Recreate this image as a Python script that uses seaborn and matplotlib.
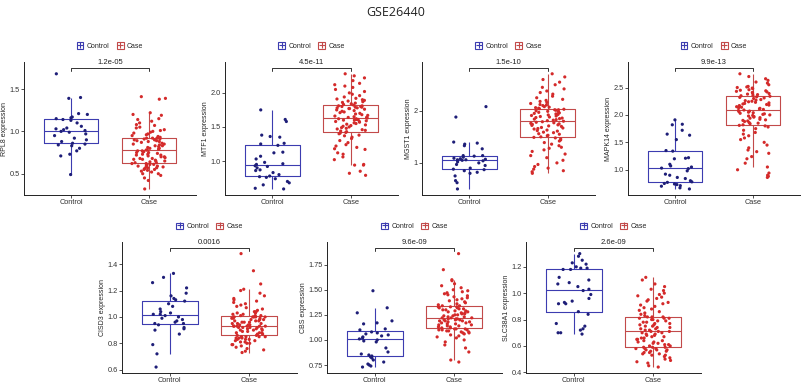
import numpy as np
import pandas as pd
import matplotlib
matplotlib.use('Agg')
import matplotlib.pyplot as plt
from matplotlib.lines import Line2D
from matplotlib.patches import Patch
from matplotlib.legend_handler import HandlerTuple
import seaborn as sns

# Expression values (32 controls, 98 septic shock cases)
rpl8_control = [1.68, 1.40, 1.39, 1.21, 1.20, 1.17, 1.16, 1.15, 1.14, 1.13, 1.10, 1.06, 1.04, 1.03, 1.02, 1.01,
                1.00, 0.99, 0.97, 0.95, 0.92, 0.90, 0.88, 0.86, 0.85, 0.84, 0.83, 0.80, 0.77, 0.73, 0.71, 0.49]
rpl8_case = [0.32, 0.42, 0.45, 0.48, 0.50, 0.50, 0.52, 0.53, 0.54, 0.55, 0.55, 0.56, 0.57, 0.57, 0.58, 0.58,
             0.59, 0.59, 0.60, 0.60, 0.61, 0.61, 0.62, 0.62,
             0.63, 0.63, 0.64, 0.65, 0.65, 0.66, 0.67, 0.67, 0.68, 0.68, 0.69, 0.70, 0.70, 0.71, 0.72, 0.72,
             0.73, 0.73, 0.74, 0.75, 0.75, 0.76, 0.76, 0.77, 0.77,
             0.78, 0.78, 0.79, 0.80, 0.80, 0.81, 0.82, 0.83, 0.83, 0.84, 0.85, 0.85, 0.86, 0.87, 0.88, 0.88,
             0.89, 0.89, 0.90, 0.90, 0.91, 0.91, 0.92, 0.92, 0.92,
             0.93, 0.94, 0.95, 0.96, 0.97, 0.98, 0.99, 1.00, 1.01, 1.02, 1.04, 1.05, 1.07, 1.08, 1.10, 1.12,
             1.14, 1.15, 1.19, 1.20, 1.22, 1.38, 1.39, 1.41]

mtf1_control = [1.75, 1.61, 1.58, 1.38, 1.36, 1.35, 1.26, 1.25, 1.23, 1.13, 1.12, 1.07, 1.03, 0.98, 0.96, 0.95,
                0.93, 0.92, 0.90, 0.87, 0.86, 0.83, 0.80, 0.78, 0.77, 0.76, 0.74, 0.70, 0.68, 0.65, 0.60, 0.59]
mtf1_case = [0.79, 0.82, 0.85, 0.94, 0.94, 0.95, 1.02, 1.06, 1.10, 1.12, 1.17, 1.18, 1.20, 1.22, 1.24, 1.27,
             1.30, 1.33, 1.35, 1.37, 1.38, 1.40, 1.41, 1.42,
             1.43, 1.44, 1.45, 1.46, 1.47, 1.48, 1.49, 1.50, 1.51, 1.52, 1.53, 1.54, 1.55, 1.56, 1.57, 1.58,
             1.58, 1.59, 1.60, 1.60, 1.61, 1.61, 1.62, 1.62, 1.63,
             1.64, 1.64, 1.65, 1.66, 1.67, 1.68, 1.69, 1.70, 1.71, 1.72, 1.73, 1.74, 1.75, 1.76, 1.77, 1.77,
             1.78, 1.78, 1.79, 1.79, 1.80, 1.80, 1.81, 1.81, 1.82,
             1.83, 1.84, 1.85, 1.86, 1.87, 1.88, 1.89, 1.90, 1.91, 1.92, 1.94, 1.96, 1.98, 2.00, 2.02, 2.05,
             2.08, 2.10, 2.12, 2.14, 2.18, 2.22, 2.25, 2.28]

mgst1_control = [2.08, 1.88, 1.40, 1.38, 1.36, 1.33, 1.27, 1.14, 1.14, 1.13, 1.11, 1.09, 1.08, 1.07, 1.06, 1.06,
                 1.05, 1.04, 1.02, 1.00, 0.97, 0.95, 0.90, 0.88, 0.87, 0.85, 0.82, 0.80, 0.75, 0.66, 0.62, 0.50]
mgst1_case = [0.80, 0.83, 0.85, 0.88, 0.90, 0.93, 0.97, 1.00, 1.05, 1.10, 1.14, 1.17, 1.22, 1.25, 1.28, 1.30,
              1.33, 1.36, 1.39, 1.42, 1.44, 1.46, 1.48, 1.49,
              1.50, 1.52, 1.53, 1.55, 1.56, 1.58, 1.59, 1.61, 1.62, 1.63, 1.65, 1.66, 1.67, 1.68, 1.70, 1.71,
              1.72, 1.73, 1.74, 1.75, 1.76, 1.77, 1.78, 1.79, 1.80,
              1.81, 1.82, 1.83, 1.84, 1.85, 1.86, 1.87, 1.88, 1.89, 1.90, 1.91, 1.92, 1.93, 1.94, 1.95, 1.96,
              1.97, 1.98, 1.99, 2.00, 2.01, 2.02, 2.02, 2.03, 2.04,
              2.05, 2.06, 2.07, 2.08, 2.10, 2.11, 2.12, 2.14, 2.16, 2.18, 2.20, 2.22, 2.25, 2.28, 2.32, 2.35,
              2.38, 2.42, 2.45, 2.50, 2.55, 2.60, 2.65, 2.71]

mapk14_control = [1.91, 1.83, 1.82, 1.72, 1.65, 1.63, 1.55, 1.35, 1.34, 1.22, 1.21, 1.20, 1.10, 1.07, 1.05, 1.03,
                  1.02, 0.98, 0.92, 0.90, 0.86, 0.84, 0.80, 0.78, 0.77, 0.75, 0.74, 0.73, 0.71, 0.70, 0.67, 0.65]
mapk14_case = [0.86, 0.88, 0.90, 0.94, 1.00, 1.05, 1.12, 1.20, 1.24, 1.30, 1.33, 1.36, 1.40, 1.45, 1.50, 1.55,
               1.58, 1.62, 1.65, 1.68, 1.72, 1.75, 1.78, 1.80,
               1.81, 1.82, 1.84, 1.85, 1.86, 1.88, 1.89, 1.90, 1.91, 1.92, 1.94, 1.95, 1.96, 1.97, 1.98, 1.99,
               2.00, 2.01, 2.02, 2.03, 2.04, 2.05, 2.06, 2.07, 2.08,
               2.09, 2.10, 2.11, 2.12, 2.13, 2.14, 2.15, 2.16, 2.17, 2.18, 2.19, 2.20, 2.21, 2.22, 2.23, 2.24,
               2.25, 2.26, 2.27, 2.28, 2.30, 2.31, 2.32, 2.33, 2.34,
               2.35, 2.36, 2.37, 2.38, 2.39, 2.40, 2.41, 2.42, 2.43, 2.44, 2.45, 2.46, 2.48, 2.49, 2.50, 2.51,
               2.52, 2.55, 2.58, 2.60, 2.63, 2.66, 2.70, 2.75]

cisd3_control = [1.33, 1.30, 1.26, 1.22, 1.18, 1.16, 1.14, 1.13, 1.12, 1.10, 1.08, 1.06, 1.04, 1.03, 1.02, 1.02,
                 1.01, 1.00, 0.99, 0.98, 0.97, 0.96, 0.95, 0.95, 0.94, 0.92, 0.91, 0.90, 0.87, 0.79, 0.72, 0.62]
cisd3_case = [0.73, 0.74, 0.75, 0.76, 0.77, 0.78, 0.79, 0.79, 0.80, 0.80, 0.81, 0.81, 0.82, 0.82, 0.83, 0.83,
              0.83, 0.84, 0.84, 0.84, 0.85, 0.85, 0.85, 0.85,
              0.86, 0.86, 0.87, 0.87, 0.88, 0.88, 0.88, 0.89, 0.89, 0.90, 0.90, 0.90, 0.91, 0.91, 0.91, 0.92,
              0.92, 0.92, 0.92, 0.93, 0.93, 0.93, 0.93, 0.93, 0.93,
              0.94, 0.94, 0.94, 0.95, 0.95, 0.95, 0.96, 0.96, 0.96, 0.97, 0.97, 0.97, 0.98, 0.98, 0.98, 0.99,
              0.99, 0.99, 1.00, 1.00, 1.00, 1.00, 1.00, 1.01, 1.01,
              1.01, 1.02, 1.02, 1.03, 1.03, 1.04, 1.04, 1.05, 1.06, 1.07, 1.08, 1.09, 1.10, 1.11, 1.12, 1.13,
              1.14, 1.16, 1.18, 1.20, 1.21, 1.25, 1.35, 1.48]

cbs_control = [1.49, 1.32, 1.27, 1.19, 1.17, 1.16, 1.11, 1.10, 1.08, 1.07, 1.06, 1.05, 1.04, 1.03, 1.02, 1.01,
               1.00, 0.99, 0.98, 0.92, 0.88, 0.86, 0.85, 0.84, 0.83, 0.82, 0.80, 0.78, 0.76, 0.75, 0.74, 0.73]
cbs_case = [0.78, 0.80, 0.88, 0.92, 0.95, 0.98, 1.00, 1.02, 1.03, 1.04, 1.05, 1.06, 1.07, 1.07, 1.08, 1.08,
            1.09, 1.09, 1.10, 1.10, 1.10, 1.11, 1.11, 1.11,
            1.12, 1.12, 1.13, 1.13, 1.14, 1.14, 1.15, 1.15, 1.16, 1.16, 1.17, 1.17, 1.18, 1.18, 1.19, 1.19,
            1.19, 1.20, 1.20, 1.20, 1.21, 1.21, 1.21, 1.22, 1.22,
            1.22, 1.23, 1.23, 1.24, 1.24, 1.25, 1.25, 1.26, 1.26, 1.27, 1.27, 1.28, 1.28, 1.29, 1.29, 1.30,
            1.30, 1.31, 1.31, 1.32, 1.32, 1.33, 1.33, 1.33, 1.34,
            1.34, 1.35, 1.36, 1.37, 1.38, 1.39, 1.40, 1.41, 1.42, 1.43, 1.44, 1.45, 1.46, 1.47, 1.48, 1.49,
            1.50, 1.52, 1.54, 1.56, 1.59, 1.60, 1.70, 1.86]

slc38a1_control = [1.30, 1.28, 1.25, 1.23, 1.22, 1.20, 1.19, 1.18, 1.19, 1.18, 1.12, 1.10, 1.08, 1.07, 1.05, 1.03,
                   1.02, 0.99, 0.96, 0.94, 0.93, 0.92, 0.92, 0.86, 0.84, 0.77, 0.75, 0.73, 0.72, 0.70, 0.70, 0.69]
slc38a1_case = [0.44, 0.45, 0.47, 0.48, 0.49, 0.50, 0.51, 0.52, 0.53, 0.53, 0.54, 0.54, 0.55, 0.55, 0.56, 0.56,
                0.57, 0.57, 0.57, 0.58, 0.58, 0.58, 0.59, 0.59,
                0.59, 0.60, 0.60, 0.61, 0.61, 0.62, 0.62, 0.63, 0.63, 0.64, 0.64, 0.65, 0.65, 0.66, 0.66, 0.67,
                0.67, 0.68, 0.68, 0.69, 0.69, 0.70, 0.70, 0.71, 0.71,
                0.71, 0.72, 0.72, 0.73, 0.73, 0.74, 0.74, 0.75, 0.75, 0.76, 0.76, 0.77, 0.77, 0.78, 0.78, 0.79,
                0.79, 0.80, 0.80, 0.81, 0.81, 0.81, 0.82, 0.82, 0.82,
                0.83, 0.84, 0.85, 0.86, 0.87, 0.88, 0.89, 0.90, 0.91, 0.92, 0.93, 0.94, 0.95, 0.96, 0.97, 0.98,
                0.99, 1.00, 1.02, 1.03, 1.05, 1.07, 1.10, 1.12]

genes = ['RPL8', 'MTF1', 'MGST1', 'MAPK14', 'CISD3', 'CBS', 'SLC38A1']
controls = [rpl8_control, mtf1_control, mgst1_control, mapk14_control, cisd3_control, cbs_control, slc38a1_control]
cases = [rpl8_case, mtf1_case, mgst1_case, mapk14_case, cisd3_case, cbs_case, slc38a1_case]
p_labels = ['1.2e-05', '4.5e-11', '1.5e-10', '9.9e-13', '0.0016', '9.6e-09', '2.6e-09']
y_ticks = [[0.5, 1.0, 1.5], [1.0, 1.5, 2.0], [1, 2], [1.0, 1.5, 2.0, 2.5],
           [0.6, 0.8, 1.0, 1.2, 1.4], [0.75, 1.00, 1.25, 1.50, 1.75], [0.4, 0.6, 0.8, 1.0, 1.2]]
y_tick_labels = [['0.5', '1.0', '1.5'], ['1.0', '1.5', '2.0'], ['1', '2'], ['1.0', '1.5', '2.0', '2.5'],
                 ['0.6', '0.8', '1.0', '1.2', '1.4'], ['0.75', '1.00', '1.25', '1.50', '1.75'],
                 ['0.4', '0.6', '0.8', '1.0', '1.2']]
groups = ['Control', 'Case']

box_colors = {'Control': '#3C3CB0', 'Case': '#C24A4A'}
dot_colors = {'Control': '#1E1E78', 'Case': '#D42A2A'}

sns.set_style('white')
plt.rcParams['font.family'] = ['Liberation Sans', 'DejaVu Sans']

W, H = 802, 386
fig = plt.figure(figsize=(W / 100, H / 100), dpi=100)

# axes boxes in pixels: left, top, width, height
boxes = [(24, 62, 172, 133), (225, 62, 173, 133), (422, 62, 173, 133), (628, 62, 172, 133),
         (122, 242, 175, 131), (327, 242, 175, 131), (526, 242, 175, 131)]

np.random.seed(7)
for i, gene in enumerate(genes):
    l, t, w, h = boxes[i]
    ax = fig.add_axes([l / W, 1 - (t + h) / H, w / W, h / H])
    df = pd.DataFrame({
        'group': ['Control'] * len(controls[i]) + ['Case'] * len(cases[i]),
        'value': controls[i] + cases[i],
    })
    sns.boxplot(data=df, x='group', y='value', hue='group', order=groups, hue_order=groups,
                palette=box_colors, fill=False, width=0.7, linewidth=0.8, showfliers=False,
                capprops={'linewidth': 0}, legend=False, ax=ax)
    sns.stripplot(data=df, x='group', y='value', hue='group', order=groups, hue_order=groups,
                  palette=dot_colors, jitter=0.22, size=2.3, linewidth=0, legend=False, ax=ax)

    vmin, vmax = df['value'].min(), df['value'].max()
    y_br = vmax + 0.05 * (vmax - vmin)
    lo = vmin - 0.05 * (y_br - vmin)
    hi = y_br + 0.05 * (y_br - vmin)
    ax.set_ylim(lo, hi)
    ax.set_xlim(-0.6, 1.6)
    tip = 0.025 * (hi - lo)
    ax.plot([0, 0, 1, 1], [y_br - tip, y_br, y_br, y_br - tip], color='#333333', lw=0.7, clip_on=False)
    ax.text(0.5, y_br + 0.012 * (hi - lo), p_labels[i], ha='center', va='bottom', fontsize=5.5,
            color='#222222', clip_on=False)

    ax.set_yticks(y_ticks[i])
    ax.set_yticklabels(y_tick_labels[i])
    ax.set_xlabel('')
    ax.set_ylabel(f'{gene} expression', fontsize=5, labelpad=1)
    ax.tick_params(axis='both', labelsize=5.3, length=2, width=0.6, pad=1.2, colors='#333333',
                   labelcolor='#333333', direction='out', bottom=True, left=True)
    for side in ['top', 'right']:
        ax.spines[side].set_visible(False)
    for side in ['left', 'bottom']:
        ax.spines[side].set_color('#222222')
        ax.spines[side].set_linewidth(0.7)

    handles = [(Patch(facecolor='white', edgecolor=box_colors[g], linewidth=0.8),
                Line2D([], [], marker='+', linestyle='None', color=box_colors[g],
                       markersize=4.5, markeredgewidth=0.8)) for g in groups]
    ax.legend(handles=handles, labels=groups, handler_map={tuple: HandlerTuple(ndivide=1)},
              loc='center', bbox_to_anchor=(0.5, 1.12), ncol=2, frameon=False,
              fontsize=5, handletextpad=0.5, columnspacing=1.0, handlelength=1.0, handleheight=1.0)

fig.text(0.493, 0.968, 'GSE26440', ha='center', va='center', fontsize=9, color='#222222',
         family=['Open Sans', 'DejaVu Sans'])

fig.savefig('out.png', dpi=100)
